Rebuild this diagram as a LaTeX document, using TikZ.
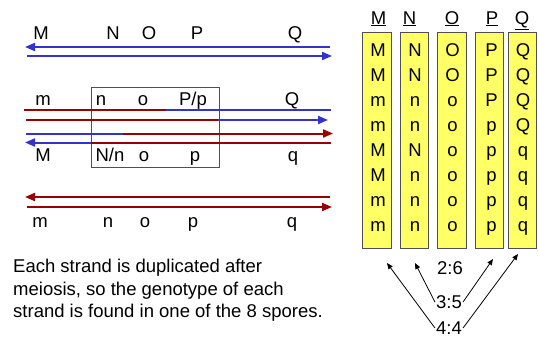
\documentclass[tikz,border=0pt]{standalone}
\usepackage{fontspec}
\setmainfont{Liberation Sans}
\usetikzlibrary{arrows.meta}
\definecolor{sblue}{HTML}{3333CC}
\definecolor{sred}{HTML}{990000}
\definecolor{syel}{HTML}{FFFF66}
\definecolor{sgray}{HTML}{505050}
\begin{document}
\begin{tikzpicture}[x=1pt,y=-1pt,
  lbl/.style={anchor=base,inner sep=0pt,font=\fontsize{18.5}{22.5}\selectfont},
  bl/.style={sblue,line width=2pt},
  rd/.style={sred,line width=2pt},
  hd/.style={-{Triangle[length=10pt,width=8pt]}},
  colbox/.style={draw=sgray,line width=0.9pt,fill=syel,minimum width=28.5pt,minimum height=216pt,inner sep=0pt},
  ratio/.style={inner sep=1pt,font=\fontsize{18.5}{22.5}\selectfont},
  pt/.style={black,line width=0.8pt,-{Triangle[length=6pt,width=5pt]}}]
\useasboundingbox (0,0) rectangle (539,338);

% ---- top pair (blue) ----
\foreach \n/\x/\t in {a1/41/M,a2/113/N,a3/149/O,a4/197/P,a5/295/Q}
  \node[lbl] (\n) at (\x,39) {\t};
\coordinate (s1r) at (330,47); \coordinate (s1l) at (25,47);
\coordinate (s2l) at (27,56);  \coordinate (s2r) at (332,56);
\draw[bl,hd] (s1r) -- (s1l);
\draw[bl,hd] (s2l) -- (s2r);

% ---- middle (crossover) ----
\node[draw=sgray,line width=1pt,minimum width=128pt,minimum height=80pt,inner sep=0pt] (box) at (155,127) {};
\foreach \n/\x/\t in {b1/43/m,b2/101/n,b3/143/o,b4/193/{P/p},b5/292/Q}
  \node[lbl] (\n) at (\x,105) {\t};
\foreach \n/\x/\t in {c1/43/M,c2/110/{N/n},c3/144/o,c4/195/p,c5/293/q}
  \node[lbl] (\n) at (\x,161) {\t};
% strand 3
\coordinate (m3a) at (24,110); \coordinate (m3b) at (166,110); \coordinate (m3c) at (331,110);
\draw[rd] (m3a) -- (m3b);
\draw[bl] (m3b) -- (m3c);
% strand 4
\coordinate (m4a) at (26,120); \coordinate (m4b) at (218,120); \coordinate (m4c) at (328,120);
\draw[rd] (m4a) -- (m4b);
\draw[bl,hd] (m4b) -- (m4c);
% strand 5
\coordinate (m5a) at (26,133.5); \coordinate (m5b) at (123,133.5); \coordinate (m5c) at (333,133.5);
\draw[bl] (m5a) -- (m5b);
\draw[rd,hd] (m5b) -- (m5c);
% strand 6
\coordinate (m6a) at (25,142.5); \coordinate (m6b) at (91,142.5); \coordinate (m6c) at (331,142.5);
\draw[rd] (m6c) -- (m6b);
\draw[bl,hd] (m6b) -- (m6a);

% ---- bottom pair (red) ----
\coordinate (s7r) at (330,197); \coordinate (s7l) at (25,197);
\coordinate (s8l) at (27,207);  \coordinate (s8r) at (332,207);
\draw[rd,hd] (s7r) -- (s7l);
\draw[rd,hd] (s8l) -- (s8r);
\foreach \n/\x/\t in {d1/40/m,d2/108/n,d3/145/o,d4/193/p,d5/292/q}
  \node[lbl] (\n) at (\x,227) {\t};

% ---- text ----
\node[anchor=north west,inner sep=0pt,align=left,font=\fontsize{18.5}{22.5}\selectfont] (txt) at (13,259)
  {Each strand is duplicated after\\meiosis, so the genotype of each\\strand is found in one of the 8 spores.};

% ---- table ----
\foreach \i/\x/\h in {1/376.7/M,2/414.2/N,3/451.9/O,4/489.5/P,5/522.5/Q}
  \node[colbox] (col\i) at (\x,140.3) {};
\foreach \n/\x/\t in {h1/378.5/M,h2/409.5/N,h3/452/O,h4/492/P,h5/522/Q}
  \node[lbl] (\n) at (\x,24) {\underline{\t}};
\foreach \c/\x/\letters in {1/378.2/{M,M,m,m,M,M,m,m},2/415/{N,N,n,n,N,n,n,n},3/452.5/{O,O,o,o,o,o,o,o},4/491.5/{P,P,P,p,p,p,p,p},5/523/{Q,Q,Q,Q,q,q,q,q}}{
  \foreach \l [count=\r] in \letters
    \node[lbl] (t\c-\r) at (\x,{56+(\r-1)*25}) {\l};
}

% ---- ratios ----
\node[ratio] (r26) at (450,268) {2:6};
\node[ratio] (r35) at (449,302) {3:5};
\node[ratio] (r44) at (449,328) {4:4};
\coordinate (p1) at (387,263);
\coordinate (p2) at (415,263);
\coordinate (p4) at (493,259);
\coordinate (p5) at (518,254);
\draw[pt] (r35.west) -- (p2);
\draw[pt] (r44.west) -- (p1);
\draw[pt] (r35.east) -- (p4);
\draw[pt] (r44.east) -- (p5);
\end{tikzpicture}
\end{document}
